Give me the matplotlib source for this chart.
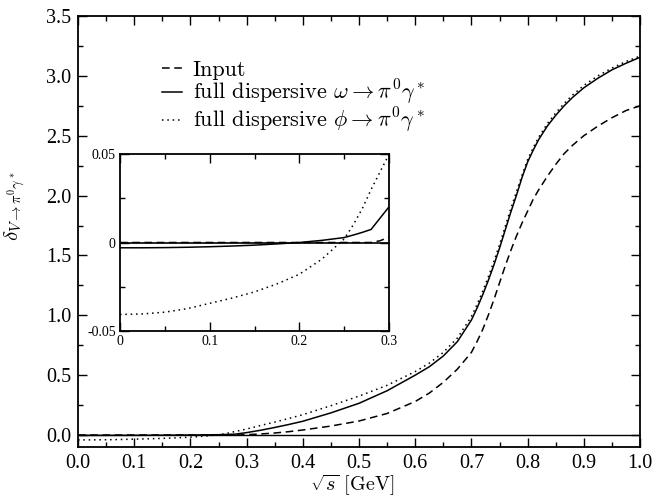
import matplotlib
matplotlib.use("Agg")
import matplotlib.pyplot as plt
from matplotlib.ticker import MultipleLocator, FixedLocator, FixedFormatter, FormatStrFormatter

plt.rcParams['font.family'] = ['Liberation Serif', 'DejaVu Serif']
plt.rcParams['mathtext.fontset'] = 'cm'

# sqrt(s) grid [GeV]
sqrt_s = [0.0, 0.025, 0.05, 0.075, 0.1, 0.125, 0.15, 0.175, 0.2, 0.225, 0.25, 0.26, 0.27, 0.28,
          0.29, 0.3, 0.325, 0.35, 0.375, 0.4, 0.45, 0.5, 0.55, 0.6, 0.625, 0.65, 0.675, 0.7,
          0.71, 0.72, 0.73, 0.74, 0.75, 0.76, 0.77, 0.78, 0.79, 0.8, 0.81, 0.82, 0.835, 0.85,
          0.865, 0.88, 0.9, 0.925, 0.95, 0.975, 1.0]

delta_input = [0.0, 0.0, 0.0, 0.0, 0.0, 0.0, 0.0, 0.0, 0.0, 0.0, 0.0, 0.0, 0.0, 0.0,
               0.001, 0.003, 0.009, 0.017, 0.028, 0.042, 0.075, 0.117, 0.18, 0.28, 0.35, 0.44, 0.55, 0.69,
               0.78, 0.88, 1.0, 1.13, 1.27, 1.41, 1.54, 1.66, 1.77, 1.87, 1.97, 2.05, 2.16, 2.26,
               2.35, 2.42, 2.50, 2.58, 2.65, 2.71, 2.75]

delta_omega = [-0.003, -0.003, -0.0029, -0.0027, -0.0024, -0.002, -0.0015, -0.0008, 0.0, 0.0012, 0.0028, 0.0042, 0.0057, 0.0074,
               0.0138, 0.0202, 0.04, 0.063, 0.088, 0.115, 0.185, 0.265, 0.37, 0.50, 0.57, 0.66, 0.78, 0.96,
               1.06, 1.17, 1.29, 1.42, 1.56, 1.71, 1.86, 2.00, 2.15, 2.28, 2.38, 2.47, 2.58, 2.67,
               2.75, 2.82, 2.90, 2.98, 3.05, 3.105, 3.155]

delta_phi = [-0.0408, -0.0405, -0.0395, -0.0375, -0.0345, -0.0315, -0.028, -0.0235, -0.018, -0.0095, 0.002, 0.0099, 0.019, 0.03,
             0.04, 0.05, 0.08, 0.108, 0.138, 0.17, 0.245, 0.325, 0.415, 0.53, 0.60, 0.69, 0.81, 0.99,
             1.09, 1.20, 1.32, 1.45, 1.59, 1.74, 1.89, 2.03, 2.17, 2.30, 2.40, 2.49, 2.60, 2.69,
             2.77, 2.84, 2.92, 3.00, 3.065, 3.12, 3.165]

labels = ['Input', r'full dispersive $\omega \rightarrow \pi^0\gamma^*$', r'full dispersive $\phi \rightarrow \pi^0\gamma^*$']

FS = 14.5
LFS = 16
fig = plt.figure(figsize=(6.66, 4.97), dpi=100)
ax = fig.add_axes([78/666, 1-447/497, (640-78)/666, (447-16)/497])

lw = 1.1
dash = (0, (5, 3))
dot = (0, (1, 2.5))
ax.plot(sqrt_s, delta_input, color='black', ls=dash, lw=lw, label=labels[0])
ax.plot(sqrt_s, delta_omega, color='black', ls='-', lw=lw, label=labels[1])
ax.plot(sqrt_s, delta_phi, color='black', ls=dot, lw=lw, label=labels[2])
ax.axhline(0, color='black', lw=1.0, zorder=3)

ax.set_xlim(0, 1.0)
ax.set_ylim(-0.1, 3.5)
ax.xaxis.set_major_locator(MultipleLocator(0.1))
ax.xaxis.set_minor_locator(MultipleLocator(0.05))
ax.yaxis.set_major_locator(MultipleLocator(0.5))
ax.yaxis.set_minor_locator(MultipleLocator(0.25))
ax.xaxis.set_major_formatter(FormatStrFormatter('%.1f'))
ax.yaxis.set_major_formatter(FormatStrFormatter('%.1f'))
ax.tick_params(which='both', direction='in', top=True, right=True, width=1.0, labelsize=FS)
ax.tick_params(which='major', length=6.5, pad=5)
ax.tick_params(which='minor', length=3.5)
for s in ax.spines.values():
    s.set_linewidth(1.3)
ax.set_xlabel(r'$\sqrt{s}$ [GeV]', fontsize=14.5, family='cmr10')
ax.xaxis.set_label_coords((352 - 78) / 562, (447 - 490) / 431)
ax.xaxis.label.set_va('baseline')
ax.set_ylabel(r'$\delta_{V\rightarrow\pi^0\gamma^*}$', fontsize=15)
ax.yaxis.set_label_coords((27 - 78) / 562, (447 - 206) / 431)

leg = ax.legend(loc='upper left', bbox_to_anchor=(0.149, 0.898), frameon=False,
                prop={'family': 'cmr10', 'size': LFS},
                handlelength=0.9, handletextpad=0.5, labelspacing=-0.06, borderpad=0, borderaxespad=0)

# inset
axi = fig.add_axes([120/666, 1-330.7/497, (389-120)/666, (330.7-154.3)/497])
axi.plot(sqrt_s, delta_input, color='black', ls=dash, lw=lw)
axi.plot(sqrt_s, delta_omega, color='black', ls='-', lw=lw)
axi.plot(sqrt_s, delta_phi, color='black', ls=dot, lw=lw)
axi.axhline(0, color='black', lw=1.2, zorder=3)
axi.set_xlim(0, 0.3)
axi.set_ylim(-0.05, 0.05)
axi.xaxis.set_major_locator(FixedLocator([0, 0.1, 0.2, 0.3]))
axi.xaxis.set_major_formatter(FixedFormatter(['0', '0.1', '0.2', '0.3']))
axi.xaxis.set_minor_locator(MultipleLocator(0.05))
axi.yaxis.set_major_locator(FixedLocator([-0.05, 0, 0.05]))
axi.yaxis.set_major_formatter(FixedFormatter(['-0.05', '0', '0.05']))
axi.yaxis.set_minor_locator(MultipleLocator(0.025))
axi.tick_params(which='both', direction='in', top=True, right=True, width=1.0, labelsize=10)
axi.tick_params(which='major', length=6.5, pad=3)
axi.tick_params(which='minor', length=3.5)
for s in axi.spines.values():
    s.set_linewidth(1.3)

fig.savefig('out.png', dpi=100)
